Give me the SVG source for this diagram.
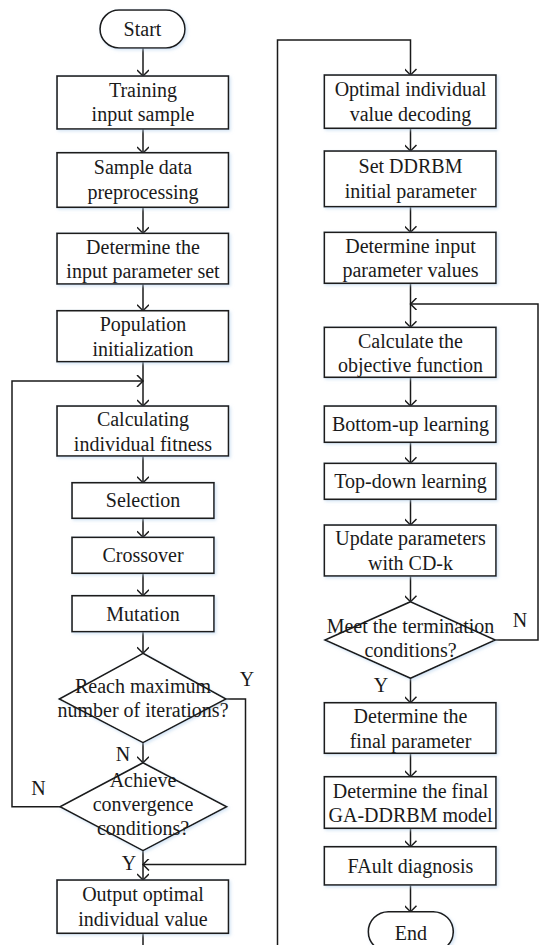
<svg xmlns="http://www.w3.org/2000/svg" width="539" height="945" viewBox="0 0 539 945">
<style>
.n{fill:#fff;stroke:#1a1a1a;stroke-width:1.6;filter:url(#sh)}
.t{font-family:'Liberation Serif','Tinos','DejaVu Serif','Noto Serif',serif;font-size:20px;fill:#1a1a1a;text-anchor:middle}
.c{fill:none;stroke:#1a1a1a;stroke-width:1.5}
.a{marker-end:url(#ah)}
</style>
<defs>
<filter id="sh" x="-10%" y="-10%" width="130%" height="140%">
<feDropShadow dx="1.5" dy="1.5" stdDeviation="1.5" flood-color="#b9d3ee" flood-opacity="0.6"/>
</filter>
<marker id="ah" markerUnits="userSpaceOnUse" markerWidth="16" markerHeight="12" refX="7" refY="6" orient="auto">
<path d="M1,0 L7,6 L1,12" fill="none" stroke="#1a1a1a" stroke-width="1.5"/>
</marker>
</defs>
<g id="connectors">
<line class="c a" x1="143" y1="48" x2="143" y2="76"/>
<line class="c a" x1="143" y1="129" x2="143" y2="153"/>
<line class="c a" x1="143" y1="207.3" x2="143" y2="233.3"/>
<line class="c a" x1="143" y1="284" x2="143" y2="310.7"/>
<line class="c a" x1="143" y1="361.7" x2="143" y2="406"/>
<polyline class="c a" points="60,806.7 12,806.7 12,381 143,381"/>
<line class="c a" x1="143" y1="456" x2="143" y2="482.7"/>
<line class="c a" x1="143" y1="518.3" x2="143" y2="537.3"/>
<line class="c a" x1="143" y1="573.3" x2="143" y2="595.7"/>
<line class="c a" x1="143" y1="631.7" x2="143" y2="653.3"/>
<line class="c a" x1="143" y1="742.7" x2="143" y2="762.7"/>
<polyline class="c a" points="226,699 245.5,699 245.5,864.5 143,864.5"/>
<line class="c a" x1="143" y1="850.7" x2="143" y2="880"/>
<line class="c" x1="143" y1="933.3" x2="143" y2="946"/>
<polyline class="c a" points="277.5,946 277.5,40 410.5,40 410.5,75"/>
<line class="c a" x1="410.5" y1="128.3" x2="410.5" y2="151"/>
<line class="c a" x1="410.5" y1="206.7" x2="410.5" y2="232.3"/>
<line class="c a" x1="410.5" y1="283.3" x2="410.5" y2="327.3"/>
<polyline class="c a" points="495.3,640 538,640 538,304 410.5,304"/>
<line class="c a" x1="410.5" y1="377.3" x2="410.5" y2="406"/>
<line class="c a" x1="410.5" y1="442.3" x2="410.5" y2="463.3"/>
<line class="c a" x1="410.5" y1="499.3" x2="410.5" y2="525"/>
<line class="c a" x1="410.5" y1="576" x2="410.5" y2="601.7"/>
<line class="c a" x1="410.5" y1="678.3" x2="410.5" y2="702.7"/>
<line class="c a" x1="410.5" y1="753.3" x2="410.5" y2="776.7"/>
<line class="c a" x1="410.5" y1="828.3" x2="410.5" y2="846.7"/>
<line class="c a" x1="410.5" y1="885" x2="410.5" y2="911.7"/>
</g>
<g id="labels">
<text class="t" x="247" y="686">Y</text>
<text class="t" x="123" y="761">N</text>
<text class="t" x="38.5" y="795">N</text>
<text class="t" x="129" y="870">Y</text>
<text class="t" x="520" y="627">N</text>
<text class="t" x="381" y="692">Y</text>
</g>
<g id="start"><rect class="n" x="100" y="10" width="85" height="38" rx="19"/><text class="t" x="142.5" y="36">Start</text></g>
<g id="training"><rect class="n" x="57" y="76" width="171.5" height="53"/><text class="t" x="143" y="96.5">Training</text><text class="t" x="143" y="121">input sample</text></g>
<g id="preprocess"><rect class="n" x="57" y="152.7" width="171.5" height="54.6"/><text class="t" x="143" y="174">Sample data</text><text class="t" x="143" y="198.5">preprocessing</text></g>
<g id="paramset"><rect class="n" x="57" y="233.3" width="171.5" height="50.7"/><text class="t" x="143" y="253.5">Determine the</text><text class="t" x="143" y="278">input parameter set</text></g>
<g id="popinit"><rect class="n" x="57" y="310.7" width="171.5" height="51"/><text class="t" x="143" y="331">Population</text><text class="t" x="143" y="355.5">initialization</text></g>
<g id="fitness"><rect class="n" x="57" y="406" width="171.5" height="50"/><text class="t" x="143" y="426">Calculating</text><text class="t" x="143" y="450.5">individual fitness</text></g>
<g id="selection"><rect class="n" x="72" y="482.7" width="142" height="35.6"/><text class="t" x="143" y="507">Selection</text></g>
<g id="crossover"><rect class="n" x="72" y="537.3" width="142" height="36"/><text class="t" x="143" y="562">Crossover</text></g>
<g id="mutation"><rect class="n" x="72" y="595.7" width="142" height="36"/><text class="t" x="143" y="620.5">Mutation</text></g>
<g id="maxiter"><polygon class="n" points="143,653.3 226,699 143,742.7 59.3,699"/><text class="t" x="143" y="693">Reach maximum</text><text class="t" x="143" y="717">number of iterations?</text></g>
<g id="converge"><polygon class="n" points="143,762.7 226.7,806.7 143,850.7 60,806.7"/><text class="t" x="143" y="786.5">Achieve</text><text class="t" x="143" y="810.5">convergence</text><text class="t" x="143" y="834.5">conditions?</text></g>
<g id="output"><rect class="n" x="57" y="880" width="171.5" height="53.3"/><text class="t" x="143" y="901">Output optimal</text><text class="t" x="143" y="925.5">individual value</text></g>
<g id="decoding"><rect class="n" x="324.3" y="75" width="171.7" height="53.3"/><text class="t" x="410.5" y="96">Optimal individual</text><text class="t" x="410.5" y="120.5">value decoding</text></g>
<g id="setddrbm"><rect class="n" x="324.3" y="151" width="171.7" height="55.7"/><text class="t" x="410.5" y="173">Set DDRBM</text><text class="t" x="410.5" y="197.5">initial parameter</text></g>
<g id="inputvals"><rect class="n" x="324.3" y="232.3" width="171.7" height="51"/><text class="t" x="410.5" y="252.5">Determine input</text><text class="t" x="410.5" y="277">parameter values</text></g>
<g id="objective"><rect class="n" x="324.3" y="327.3" width="171.7" height="50"/><text class="t" x="410.5" y="347.5">Calculate the</text><text class="t" x="410.5" y="372">objective function</text></g>
<g id="bottomup"><rect class="n" x="324.3" y="406" width="171.7" height="36.3"/><text class="t" x="410.5" y="431">Bottom-up learning</text></g>
<g id="topdown"><rect class="n" x="324.3" y="463.3" width="171.7" height="36"/><text class="t" x="410.5" y="488">Top-down learning</text></g>
<g id="update"><rect class="n" x="324.3" y="525" width="171.7" height="51"/><text class="t" x="410.5" y="545">Update parameters</text><text class="t" x="410.5" y="569.5">with CD-k</text></g>
<g id="termination"><polygon class="n" points="410.5,601.7 495.3,640 410.5,678.3 325,640"/><text class="t" x="410.5" y="633">Meet the termination</text><text class="t" x="410.5" y="657">conditions?</text></g>
<g id="finalparam"><rect class="n" x="324.3" y="702.7" width="171.7" height="50.6"/><text class="t" x="410.5" y="723">Determine the</text><text class="t" x="410.5" y="747.5">final parameter</text></g>
<g id="finalmodel"><rect class="n" x="324.3" y="776.7" width="171.7" height="51.6"/><text class="t" x="410.5" y="797.5">Determine the final</text><text class="t" x="410.5" y="822">GA-DDRBM model</text></g>
<g id="diagnosis"><rect class="n" x="324.3" y="846.7" width="171.7" height="38.3"/><text class="t" x="410.5" y="872.5">FAult diagnosis</text></g>
<g id="end"><rect class="n" x="368.3" y="911.7" width="85" height="40" rx="20"/><text class="t" x="410.8" y="940">End</text></g>
</svg>
